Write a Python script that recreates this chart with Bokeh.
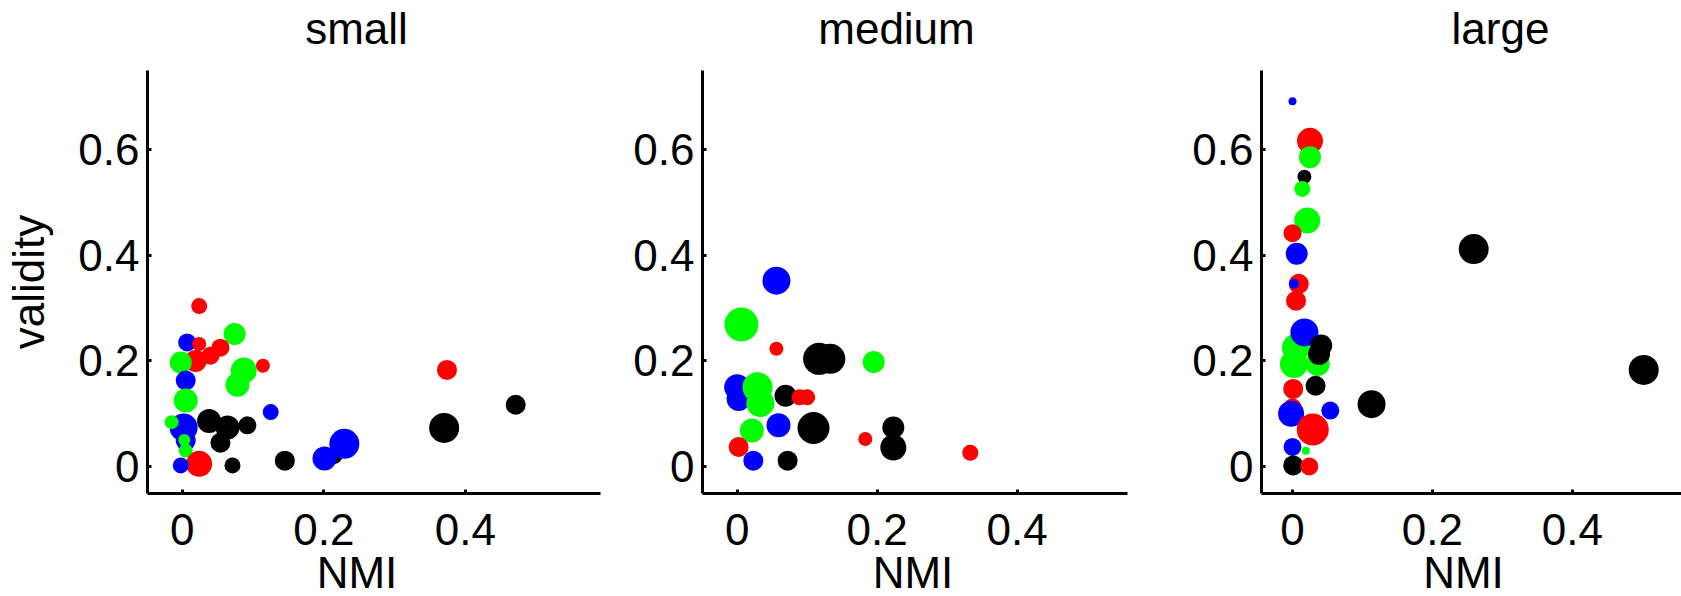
from bokeh.plotting import figure
from bokeh.layouts import row, column
from bokeh.models import ColumnDataSource, FixedTicker, Title, Label
from bokeh.embed import file_html
from bokeh.resources import INLINE

# ---------------- data ----------------
panel_titles = ["small", "medium", "large"]
x_label = "NMI"
y_label = "validity"
x_ticks = [0, 0.2, 0.4]
x_tick_labels = ["0", "0.2", "0.4"]
y_ticks = [0, 0.2, 0.4, 0.6]
y_tick_labels = ["0", "0.2", "0.4", "0.6"]

small_nmi = [0.024, 0.074, 0.007, 0.024, 0.054, 0.040, 0.019, -0.002, 0.087, 0.078,
             0.114, 0.005, 0.005, 0.125, 0.038, 0.064, 0.092, 0.054, 0.002, 0.005,
             -0.015, 0.003, 0.005, 0.024, -0.002, 0.071, 0.145, 0.374, 0.471, 0.370,
             0.215, 0.201, 0.229]
small_validity = [0.304, 0.251, 0.235, 0.232, 0.225, 0.210, 0.200, 0.197, 0.182, 0.155,
                  0.191, 0.163, 0.125, 0.103, 0.086, 0.074, 0.078, 0.045, 0.074, 0.049,
                  0.084, 0.050, 0.030, 0.005, 0.002, 0.002, 0.011, 0.183, 0.117, 0.073,
                  0.020, 0.015, 0.043]
small_color = ["red", "green", "blue", "red", "red", "red", "red", "green", "green", "green",
               "red", "blue", "green", "blue", "black", "black", "black", "black", "blue", "blue",
               "green", "green", "green", "red", "blue", "black", "black", "red", "black", "black",
               "black", "blue", "blue"]
small_weight = [16, 22, 18, 14, 18, 18, 22, 22, 26, 24,
                14, 20, 24, 16, 24, 24, 18, 20, 28, 20,
                14, 12, 14, 26, 16, 16, 20, 20, 20, 30,
                16, 24, 30]

medium_nmi = [0.056, 0.006, 0.056, 0.117, 0.133, 0.195, 0.000, 0.002, 0.029, 0.033,
              0.069, 0.089, 0.100, 0.059, 0.021, 0.109, 0.183, 0.223, 0.223, 0.002,
              0.023, 0.072, 0.333]
medium_validity = [0.352, 0.269, 0.223, 0.204, 0.204, 0.198, 0.150, 0.128, 0.150, 0.120,
                   0.134, 0.131, 0.131, 0.078, 0.068, 0.073, 0.052, 0.074, 0.036, 0.037,
                   0.011, 0.011, 0.026]
medium_color = ["blue", "green", "red", "black", "black", "green", "blue", "blue", "green", "green",
                "black", "red", "red", "blue", "green", "black", "red", "black", "black", "red",
                "blue", "black", "red"]
medium_weight = [28, 34, 14, 32, 30, 22, 26, 24, 30, 28,
                 22, 16, 16, 24, 24, 32, 14, 22, 26, 20,
                 20, 20, 16]

large_nmi = [0.000, 0.025, 0.025, 0.017, 0.014, 0.021, 0.000, 0.006, 0.009, 0.002,
             0.005, 0.005, 0.002, 0.036, 0.017, 0.041, 0.038, 0.001, 0.033, 0.000,
             -0.002, 0.054, 0.113, 0.029, 0.000, 0.019, 0.001, 0.024, 0.259, 0.502]
large_validity = [0.692, 0.617, 0.586, 0.549, 0.526, 0.466, 0.442, 0.403, 0.346, 0.346,
                  0.314, 0.225, 0.194, 0.194, 0.254, 0.229, 0.213, 0.147, 0.153, 0.112,
                  0.100, 0.106, 0.118, 0.070, 0.037, 0.030, 0.002, 0.000, 0.412, 0.183]
large_color = ["blue", "red", "green", "black", "green", "green", "red", "blue", "red", "blue",
               "red", "green", "green", "green", "blue", "black", "black", "red", "black", "red",
               "blue", "blue", "black", "red", "blue", "green", "black", "red", "black", "black"]
large_weight = [8, 26, 22, 14, 16, 26, 18, 22, 20, 10,
                20, 28, 28, 24, 28, 22, 22, 20, 20, 18,
                26, 18, 28, 32, 18, 8, 20, 18, 30, 30]

# ---------------- styling / layout ----------------
palette = {"red": "#ff0000", "green": "#00ff00", "blue": "#0000ff", "black": "#000000"}
FONT = "Liberation Sans"
FPX = 44
FS = f"{FPX}px"
W_TOTAL = 1681
TOP = 70                  # height of the title strip
H = 596 - TOP             # height of the plotting row
BOTTOM = 103
Y_RANGE = (-0.0512, 0.7503)
EM = {"NMI": 1.833}       # approximate advance width (em) of the x label

panels = [
    dict(title=panel_titles[0], x=small_nmi, y=small_validity, c=small_color, s=small_weight,
         width=630, left=147, right=30, xr=(-0.049, 0.5908), tcx=356.0, ncx=356.5, ylab=True),
    dict(title=panel_titles[1], x=medium_nmi, y=medium_validity, c=medium_color, s=medium_weight,
         width=559, left=72, right=62, xr=(-0.0496, 0.5576), tcx=896.0, ncx=912.5 - 630, ylab=False),
    dict(title=panel_titles[2], x=large_nmi, y=large_validity, c=large_color, s=large_weight,
         width=492, left=72, right=0, xr=(-0.0443, 0.556), tcx=1500.0, ncx=1463.0 - 1189, ylab=False),
]


def make(pn):
    p = figure(width=pn["width"], height=H, x_range=pn["xr"], y_range=Y_RANGE,
               output_backend="svg", toolbar_location=None,
               min_border_left=pn["left"], min_border_right=pn["right"],
               min_border_top=0, min_border_bottom=BOTTOM)
    p.outline_line_color = None
    p.grid.visible = False
    p.background_fill_color = "white"
    p.border_fill_color = "white"

    src = ColumnDataSource(dict(x=pn["x"], y=pn["y"],
                                color=[palette[c] for c in pn["c"]], size=pn["s"]))
    p.scatter("x", "y", source=src, size="size", fill_color="color",
              line_color=None, marker="circle")

    for ax, ticks, labels in ((p.xaxis, x_ticks, x_tick_labels), (p.yaxis, y_ticks, y_tick_labels)):
        ax.ticker = FixedTicker(ticks=ticks)
        ax.major_label_overrides = {t: l for t, l in zip(ticks, labels)}
        ax.axis_line_width = 3
        ax.axis_line_color = "black"
        ax.major_tick_in = 4
        ax.major_tick_out = 0
        ax.major_tick_line_width = 3
        ax.minor_tick_line_color = None
        ax.major_label_text_font = FONT
        ax.major_label_text_font_size = FS
        ax.major_label_text_color = "black"
    p.xaxis.major_label_standoff = 20
    p.yaxis.major_label_standoff = 8

    if pn["ylab"]:
        p.yaxis.axis_label = y_label
        p.yaxis.axis_label_text_font = FONT
        p.yaxis.axis_label_text_font_size = FS
        p.yaxis.axis_label_text_font_style = "normal"
        p.yaxis.axis_label_text_color = "black"
        p.yaxis.axis_label_standoff = 22

    n_off = pn["ncx"] - pn["left"] - EM[x_label] * FPX / 2
    p.add_layout(Title(text=x_label, align="left", offset=n_off, standoff=-4,
                       text_font=FONT, text_font_size=FS, text_font_style="normal",
                       text_color="black"), "below")
    return p


# strip above the panels that carries the three panel titles
strip = figure(width=W_TOTAL, height=TOP, x_range=(0, W_TOTAL), y_range=(0, TOP),
               output_backend="svg", toolbar_location=None,
               x_axis_location=None, y_axis_location=None,
               min_border=0, min_border_left=0, min_border_right=0,
               min_border_top=0, min_border_bottom=0)
strip.outline_line_color = None
strip.grid.visible = False
for pn in panels:
    strip.add_layout(Label(x=pn["tcx"], y=TOP - 28, text=pn["title"], text_align="center",
                           text_baseline="middle", text_font=FONT, text_font_size=FS,
                           text_color="black"))

figs = [make(pn) for pn in panels]
layout = column(strip, row(*figs, spacing=0), spacing=0)
open("out.html", "w").write(file_html(layout, INLINE))
